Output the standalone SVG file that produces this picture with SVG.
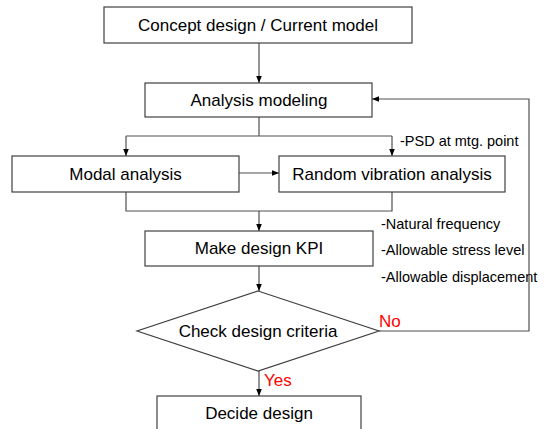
<svg xmlns="http://www.w3.org/2000/svg" width="548" height="429" viewBox="0 0 548 429">
<defs>
<style>
.box{fill:#fff;stroke:#404040;stroke-width:1.2}
.t{font-family:"Liberation Sans",Arial,sans-serif;font-size:17px;fill:#000;text-anchor:middle}
.n{font-family:"Liberation Sans",Arial,sans-serif;font-size:14.5px;fill:#000}
.r{font-family:"Liberation Sans",Arial,sans-serif;font-size:17px;fill:#ff0000}
.c{fill:none;stroke:#505050;stroke-width:1.2}
</style>
<marker id="ah" viewBox="0 0 10 10" refX="10" refY="5" markerWidth="7" markerHeight="7" orient="auto" markerUnits="userSpaceOnUse">
<path d="M0,1 L10,5 L0,9 Z" fill="#000"/>
</marker>
</defs>
<rect width="548" height="429" fill="#fff"/>
<g id="connectors">
<line class="c" x1="259" y1="43" x2="259" y2="83" marker-end="url(#ah)"/>
<polyline class="c" points="259,117 259,136"/>
<polyline class="c" points="126,136 392,136"/>
<line class="c" x1="126" y1="136" x2="126" y2="156" marker-end="url(#ah)"/>
<line class="c" x1="392" y1="136" x2="392" y2="156" marker-end="url(#ah)"/>
<line class="c" x1="239" y1="173" x2="279" y2="173" marker-end="url(#ah)"/>
<polyline class="c" points="126,192 126,211 392,211 392,192"/>
<line class="c" x1="259" y1="211" x2="259" y2="231" marker-end="url(#ah)"/>
<line class="c" x1="259" y1="266" x2="259" y2="291" marker-end="url(#ah)"/>
<polyline class="c" points="379,331 529,331 529,99 372,99" marker-end="url(#ah)"/>
<line class="c" x1="259" y1="371" x2="259" y2="396" marker-end="url(#ah)"/>
</g>
<g id="concept">
<rect class="box" x="104" y="7" width="308" height="36"/>
<text class="t" x="258" y="31">Concept design / Current model</text>
</g>
<g id="analysis">
<rect class="box" x="145" y="83" width="227" height="34"/>
<text class="t" x="259" y="106">Analysis modeling</text>
</g>
<g id="modal">
<rect class="box" x="12" y="156" width="227" height="36"/>
<text class="t" x="125.5" y="180">Modal analysis</text>
</g>
<g id="random">
<rect class="box" x="279" y="156" width="226" height="36"/>
<text class="t" x="392" y="180">Random vibration analysis</text>
</g>
<g id="kpi">
<rect class="box" x="145" y="231" width="228" height="35"/>
<text class="t" x="259" y="254">Make design KPI</text>
</g>
<g id="check">
<polygon class="box" points="258,291 379,331 258,371 137,331"/>
<text class="t" x="258" y="337">Check design criteria</text>
</g>
<g id="decide">
<rect class="box" x="157" y="396" width="204" height="40"/>
<text class="t" x="259" y="419">Decide design</text>
</g>
<g id="notes">
<text class="n" x="400" y="146">-PSD at mtg. point</text>
<text class="n" x="381" y="229">-Natural frequency</text>
<text class="n" x="381" y="255">-Allowable stress level</text>
<text class="n" x="381" y="282">-Allowable displacement</text>
<text class="r" x="379" y="327">No</text>
<text class="r" x="264" y="386">Yes</text>
</g>
</svg>
